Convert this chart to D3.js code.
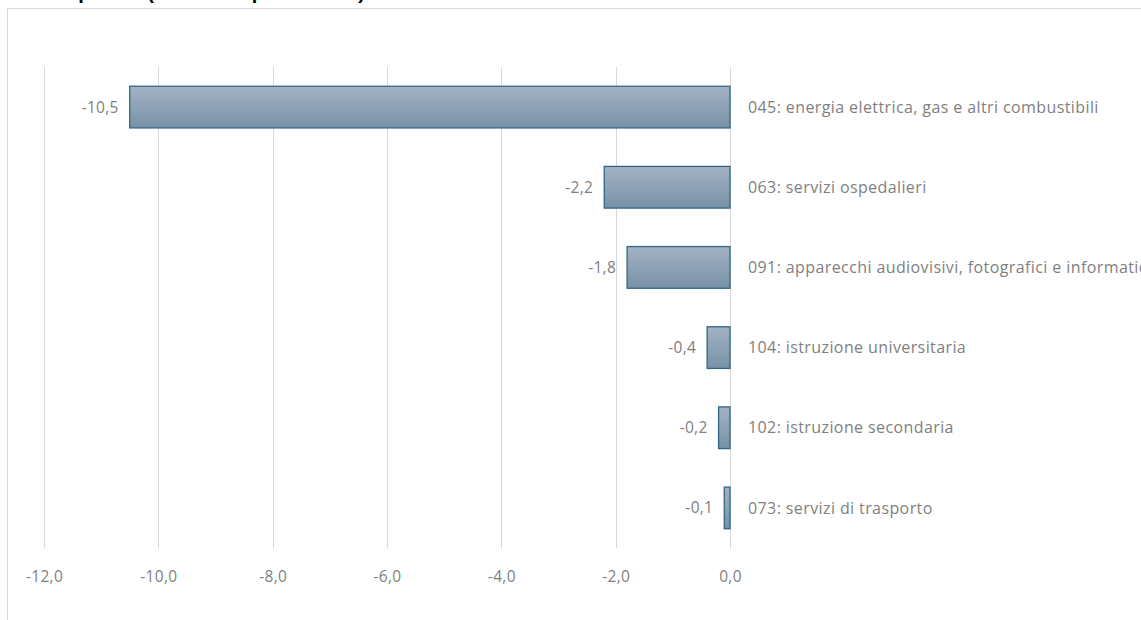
<!DOCTYPE html>
<html>
<head>
<meta charset="utf-8">
<script src="https://cdn.jsdelivr.net/npm/d3@7"></script>
<style>
  html, body { margin: 0; padding: 0; background: #fff; }
  svg { display: block; }
</style>
</head>
<body>
<svg id="chart" width="1141" height="620"></svg>
<script>
// Categories and annual percentage changes
const categories = [
  "045: energia elettrica, gas e altri combustibili",
  "063: servizi ospedalieri",
  "091: apparecchi audiovisivi, fotografici e informatici",
  "104: istruzione universitaria",
  "102: istruzione secondaria",
  "073: servizi di trasporto"
];
const values = [-10.5, -2.2, -1.8, -0.4, -0.2, -0.1];
const tickValues = [-12, -10, -8, -6, -4, -2, 0];
const titleText = "Prodotti con le maggiori diminuzioni di prezzo (variazioni percentuali)";

const svg = d3.select("#chart");
const W = 1141, H = 620;
const fmt = v => d3.format(".1f")(v).replace("\u2212", "-").replace(".", ",");
const FONT = "'Open Sans', sans-serif";

// Title (mostly above the visible area)
svg.append("text")
  .attr("x", 365).attr("y", -1)
  .attr("text-anchor", "end")
  .attr("font-family", "Liberation Sans, Arial, sans-serif")
  .attr("font-weight", "bold")
  .attr("font-size", 20)
  .attr("fill", "#000")
  .text(titleText);

// Chart area frame
svg.append("rect")
  .attr("x", 7.5).attr("y", 8.5)
  .attr("width", W + 10).attr("height", H + 10)
  .attr("fill", "none")
  .attr("stroke", "#d9d9d9")
  .attr("stroke-width", 1);

const plotTop = 67, plotBottom = 548;
const x = d3.scaleLinear().domain([-12, 0]).range([44, 730]);
const y = d3.scaleBand().domain(categories).range([plotTop, plotBottom]).paddingInner(0.48).paddingOuter(0.24);

// Gradient for the bars
const defs = svg.append("defs");
const grad = defs.append("linearGradient").attr("id", "barGrad")
  .attr("x1", 0).attr("y1", 0).attr("x2", 0).attr("y2", 1);
grad.append("stop").attr("offset", "0%").attr("stop-color", "#a3b3c3");
grad.append("stop").attr("offset", "100%").attr("stop-color", "#7891a7");

// Vertical gridlines
svg.append("g")
  .selectAll("line")
  .data(tickValues)
  .join("line")
  .attr("x1", d => Math.round(x(d)) + 0.5)
  .attr("x2", d => Math.round(x(d)) + 0.5)
  .attr("y1", plotTop).attr("y2", plotBottom)
  .attr("stroke", "#d9d9d9")
  .attr("stroke-width", 1);

// X axis tick labels
const xAxis = d3.axisBottom(x).tickValues(tickValues).tickSize(0).tickPadding(0).tickFormat(fmt);
const gx = svg.append("g").attr("transform", `translate(0,${plotBottom + 23})`).call(xAxis);
gx.select(".domain").remove();
gx.selectAll("text")
  .attr("font-family", FONT)
  .attr("font-size", 15.5)
  .attr("letter-spacing", 0.3)
  .attr("fill", "#7f7f7f");

// Bars
const bars = svg.append("g");
bars.selectAll("rect")
  .data(values)
  .join("rect")
  .attr("x", d => x(d))
  .attr("y", (d, i) => y(categories[i]))
  .attr("width", d => x(0) - x(d))
  .attr("height", y.bandwidth())
  .attr("fill", "url(#barGrad)")
  .attr("stroke", "#2f6688")
  .attr("stroke-width", 1.3);

// Value labels
svg.append("g")
  .selectAll("text")
  .data(values)
  .join("text")
  .attr("x", d => x(d) - 11)
  .attr("y", (d, i) => y(categories[i]) + y.bandwidth() / 2)
  .attr("dy", "0.35em")
  .attr("text-anchor", "end")
  .attr("font-family", FONT)
  .attr("font-size", 15.5)
  .attr("letter-spacing", 0.3)
  .attr("fill", "#7f7f7f")
  .text(fmt);

// Category labels
svg.append("g")
  .selectAll("text")
  .data(categories)
  .join("text")
  .attr("x", x(0) + 18)
  .attr("y", d => y(d) + y.bandwidth() / 2)
  .attr("dy", "0.35em")
  .attr("font-family", FONT)
  .attr("font-size", 16)
  .attr("letter-spacing", 0.4)
  .attr("fill", "#7f7f7f")
  .text(d => d);
</script>
</body>
</html>
